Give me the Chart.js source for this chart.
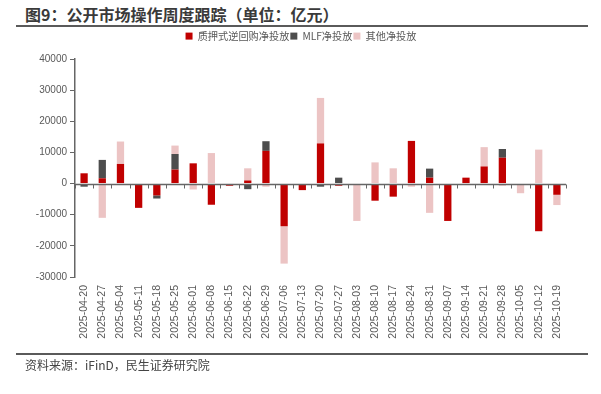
<!DOCTYPE html>
<html>
<head>
<meta charset="utf-8">
<script src="https://cdn.jsdelivr.net/npm/chart.js@4/dist/chart.umd.min.js"></script>
<style>
  html, body { margin: 0; padding: 0; background: #fff; }
  body { width: 601px; height: 394px; position: relative; overflow: hidden;
         font-family: "Noto Sans CJK SC", "Noto Sans", sans-serif; }
  #title { position: absolute; left: 25px; top: 4px; font-size: 16px; font-weight: bold;
           color: #3a3a3a; white-space: nowrap; line-height: 20px; }
  #topLine { position: absolute; left: 16px; top: 25px; width: 572px; height: 2px; background: #5a5a5a; }
  #bottomLine { position: absolute; left: 16px; top: 353px; width: 572px; height: 2px; background: #5a5a5a; }
  #source { position: absolute; left: 25px; top: 357px; font-size: 12px; color: #444;
            white-space: nowrap; line-height: 16px; }
  #wrap { position: absolute; left: 0; top: 26px; width: 601px; height: 340px; }
</style>
</head>
<body>
<div id="title">图9：公开市场操作周度跟踪（单位：亿元）</div>
<div id="topLine"></div>
<div id="wrap"><canvas id="chart"></canvas></div>
<div id="bottomLine"></div>
<div id="source">资料来源：iFinD，民生证券研究院</div>
<script>
// ---- data (亿元) ----
const weeks = [
    '2025-04-20', '2025-04-27', '2025-05-04', '2025-05-11', '2025-05-18', '2025-05-25',
    '2025-06-01', '2025-06-08', '2025-06-15', '2025-06-22', '2025-06-29', '2025-07-06',
    '2025-07-13', '2025-07-20', '2025-07-27', '2025-08-03', '2025-08-10', '2025-08-17',
    '2025-08-24', '2025-08-31', '2025-09-07', '2025-09-14', '2025-09-21', '2025-09-28',
    '2025-10-05', '2025-10-12', '2025-10-19'
];
const repoNet = [
    3300, 1700, 6300, -7800, -3800, 4500,
    6500, -6800, -700, 1000, 10500, -13700,
    -2100, 12900, -700, 0, -5500, -4200,
    13700, 1900, -12000, 1900, 5500, 8300,
    0, -15300, -3600
];
const mlfNet = [
    -1000, 5900, 0, 0, -1000, 5000,
    0, 0, 0, -1800, 3100, 0,
    0, -1000, 1900, 0, 0, 0,
    0, 2900, 0, 0, 0, 2800,
    0, 0, 0
];
const otherNet = [
    0, -11000, 7200, 0, 0, 2700,
    -1900, 9800, 0, 3900, -1000, -12000,
    0, 14600, 0, -12000, 6800, 4900,
    -1000, -9400, 0, 0, 6200, -700,
    -3100, 10900, -3300
];
const seriesNames = ['质押式逆回购净投放', 'MLF净投放', '其他净投放'];
const yMin = -30000, yMax = 40000, yStep = 10000;

const axisColor = '#666666';
const textColor = '#595959';
const numFont = '"Liberation Sans", Arial, sans-serif';

// fixed legend height so the plot starts where the reference does
const legendHeight = {
    id: 'legendHeight',
    beforeInit(c) {
        const fit = c.legend.fit;
        c.legend.fit = function () {
            fit.call(this);
            this.height = 29;
        };
    }
};

// zero line with tick marks between weeks, drawn over the bars
const zeroAxis = {
    id: 'zeroAxis',
    afterDatasetsDraw(c) {
        const x = c.scales.x, y = c.scales.y;
        const y0 = Math.round(y.getPixelForValue(0)) + 0.5;
        const ctx = c.ctx;
        ctx.save();
        ctx.strokeStyle = axisColor;
        ctx.lineWidth = 1.5;
        ctx.beginPath();
        ctx.moveTo(x.left, y0);
        ctx.lineTo(x.right, y0);
        ctx.stroke();
        ctx.lineWidth = 1;
        const half = (x.getPixelForTick(1) - x.getPixelForTick(0)) / 2;
        for (let i = 0; i <= weeks.length; i++) {
            const px = Math.round(x.getPixelForTick(Math.min(i, weeks.length - 1)) + (i === weeks.length ? half : -half)) + 0.5;
            ctx.beginPath();
            ctx.moveTo(px, y0);
            ctx.lineTo(px, y0 + 4);
            ctx.stroke();
        }
        ctx.restore();
    }
};

new Chart(document.getElementById('chart'), {
    type: 'bar',
    data: {
        labels: weeks,
        datasets: [
            { label: seriesNames[0], data: repoNet, backgroundColor: '#C00000' },
            { label: seriesNames[1], data: mlfNet, backgroundColor: '#4D4D4D' },
            { label: seriesNames[2], data: otherNet, backgroundColor: '#ECC4C4' }
        ]
    },
    options: {
        responsive: true,
        maintainAspectRatio: false,
        animation: false,
        layout: { padding: { left: 36, right: 35, top: 4, bottom: 23 } },
        datasets: {
            bar: { barPercentage: 0.4, categoryPercentage: 1, borderWidth: 0 }
        },
        plugins: {
            legend: {
                position: 'top',
                labels: {
                    boxWidth: 7,
                    boxHeight: 7,
                    padding: 1,
                    color: textColor,
                    font: { family: '"Noto Sans CJK SC", sans-serif', size: 10.2 }
                }
            },
            tooltip: { enabled: false }
        },
        scales: {
            x: {
                stacked: true,
                grid: { display: false },
                border: { display: false },
                ticks: {
                    autoSkip: false,
                    maxRotation: 90,
                    minRotation: 90,
                    padding: 0,
                    color: textColor,
                    font: { family: numFont, size: 10.5 }
                },
                afterFit: (s) => { s.height = 66; }
            },
            y: {
                stacked: true,
                min: yMin,
                max: yMax,
                grid: { drawOnChartArea: false, color: axisColor, tickLength: 5 },
                border: { display: true, color: axisColor, width: 1.5 },
                ticks: {
                    stepSize: yStep,
                    padding: 3,
                    color: textColor,
                    font: { family: numFont, size: 10 },
                    callback: (v) => String(v)
                },
                afterFit: (s) => { s.width = 39; }
            }
        }
    },
    plugins: [legendHeight, zeroAxis]
});
</script>
</body>
</html>
